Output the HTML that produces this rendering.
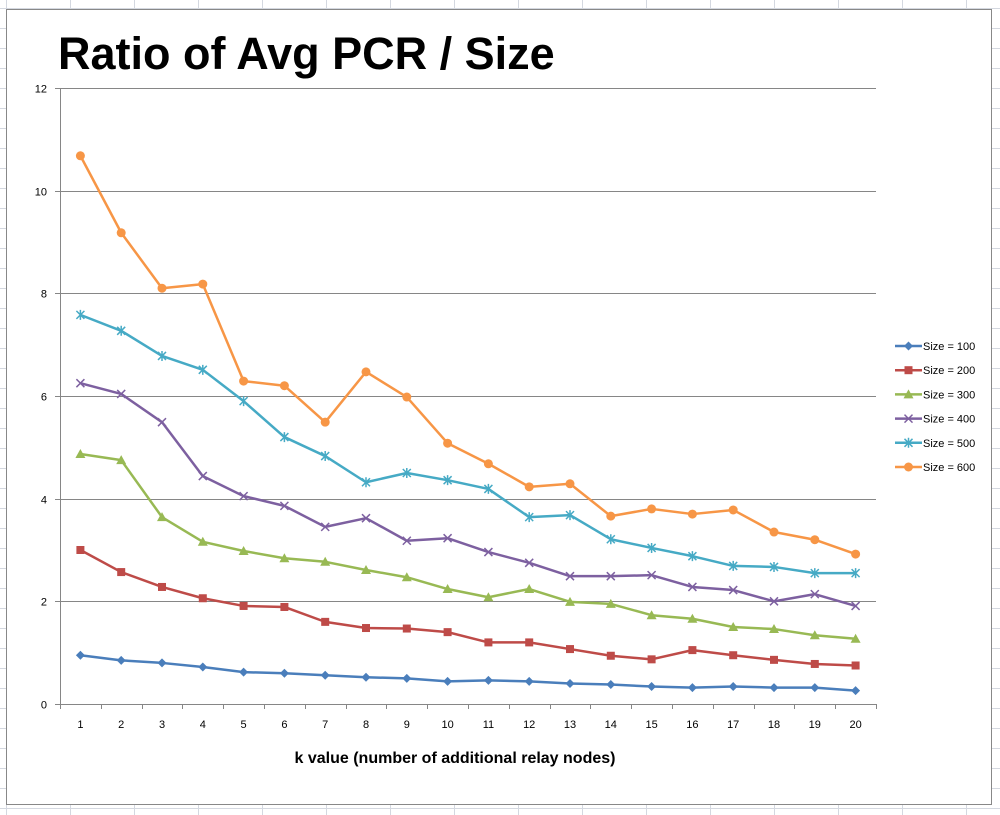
<!DOCTYPE html>
<html><head><meta charset="utf-8"><style>
body{margin:0;background:#fff;font-family:"Liberation Sans",sans-serif}
svg{display:block}
</style></head><body>
<svg id="c" width="1000" height="815" xmlns="http://www.w3.org/2000/svg">
<g id="bg"></g>
<rect x="6.5" y="9.5" width="985" height="795" fill="#fff" stroke="#888"/>
<text x="58" y="69" font-size="45" font-weight="bold" fill="#000">Ratio of Avg PCR / Size</text>
<g id="grid"></g>
<g id="series"></g>
<g id="legend"></g>
<text x="455" y="763" text-anchor="middle" font-size="16" font-weight="bold">k value (number of additional relay nodes)</text>
</svg>
<script>
const categories=[1,2,3,4,5,6,7,8,9,10,11,12,13,14,15,16,17,18,19,20];
const yTicks=[0,2,4,6,8,10,12];
const seriesNames=["Size = 100","Size = 200","Size = 300","Size = 400","Size = 500","Size = 600"];
const s100=[0.95,0.85,0.8,0.72,0.62,0.6,0.56,0.52,0.5,0.44,0.46,0.44,0.4,0.38,0.34,0.32,0.34,0.32,0.32,0.26];
const s200=[3.0,2.57,2.28,2.06,1.91,1.89,1.6,1.48,1.47,1.4,1.2,1.2,1.07,0.94,0.87,1.05,0.95,0.86,0.78,0.75];
const s300=[4.87,4.75,3.64,3.16,2.98,2.84,2.77,2.61,2.47,2.24,2.08,2.24,1.99,1.95,1.73,1.66,1.5,1.46,1.34,1.27];
const s400=[6.25,6.04,5.49,4.44,4.05,3.86,3.45,3.62,3.18,3.23,2.96,2.75,2.49,2.49,2.51,2.28,2.22,2.0,2.14,1.91];
const s500=[7.58,7.27,6.78,6.51,5.9,5.2,4.83,4.32,4.5,4.36,4.19,3.64,3.68,3.21,3.04,2.88,2.69,2.67,2.55,2.55];
const s600=[10.68,9.18,8.1,8.18,6.29,6.2,5.49,6.47,5.98,5.08,4.68,4.23,4.29,3.66,3.8,3.7,3.78,3.35,3.2,2.92];
const allSeries=[s100,s200,s300,s400,s500,s600];
const colors=["#4a7ebb","#be4b48","#98b954","#7d60a0","#46aac5","#f79646"];
const markers=["diamond","square","triangle","x","star","circle"];
const NS="http://www.w3.org/2000/svg";
const L=60,R=876,T=88,B=704,yMax=12;
const step=(R-L)/categories.length;
function xs(i){return L+step*(i+0.5);}
function ys(v){return B-(v/yMax)*(B-T);}
function mk(tag,attrs,parent){const e=document.createElementNS(NS,tag);for(const k in attrs)e.setAttribute(k,attrs[k]);parent.appendChild(e);return e;}
const bg=document.getElementById('bg');
for(let y=8;y<815;y+=20){mk('line',{x1:0,x2:1000,y1:y+.5,y2:y+.5,stroke:'#d4d8e0'},bg);}
for(let x=6;x<1000;x+=64){mk('line',{x1:x+.5,x2:x+.5,y1:0,y2:815,stroke:'#d4d8e0'},bg);}
const grid=document.getElementById('grid');
yTicks.forEach(t=>{const y=Math.round(ys(t))+.5;
 const g=mk('line',{x1:L-5,x2:R,y1:y,y2:y,stroke:'#868686'},grid);
 
 
 const tx=mk('text',{x:47,y:y+4,'text-anchor':'end','font-size':11},grid);tx.textContent=t;
 
 
});
mk('line',{x1:L+.5,x2:L+.5,y1:T,y2:B,stroke:'#868686'},grid);
for(let i=0;i<=categories.length;i++){const x=Math.round(L+step*i)+.5;mk('line',{x1:x,x2:x,y1:B,y2:B+5,stroke:'#868686'},grid);}
categories.forEach((c,i)=>{const t=mk('text',{x:xs(i),y:728,'text-anchor':'middle','font-size':11},grid);t.textContent=c;
 
 });
function marker(type,x,y,col,parent){
 if(type==='diamond')return mk('path',{d:`M${x},${y-4.5}L${x+4.5},${y}L${x},${y+4.5}L${x-4.5},${y}Z`,fill:col},parent);
 if(type==='square')return mk('rect',{x:x-4,y:y-4,width:8,height:8,fill:col},parent);
 if(type==='triangle')return mk('path',{d:`M${x},${y-5}L${x+5},${y+4}L${x-5},${y+4}Z`,fill:col},parent);
 if(type==='x')return mk('path',{d:`M${x-4},${y-4}L${x+4},${y+4}M${x-4},${y+4}L${x+4},${y-4}`,stroke:col,'stroke-width':1.5,fill:'none'},parent);
 if(type==='star')return mk('path',{d:`M${x-4},${y-4}L${x+4},${y+4}M${x-4},${y+4}L${x+4},${y-4}M${x},${y-5}L${x},${y+5}`,stroke:col,'stroke-width':1.5,fill:'none'},parent);
 return mk('circle',{cx:x,cy:y,r:4.5,fill:col},parent);
}
const sg=document.getElementById('series');
allSeries.forEach((s,k)=>{
 const g=mk('g',{},sg);
 
 
 mk('polyline',{points:s.map((v,i)=>xs(i)+','+ys(v)).join(' '),fill:'none',stroke:colors[k],'stroke-width':2.5,'stroke-linejoin':'round'},g);
 s.forEach((v,i)=>{const m=marker(markers[k],xs(i),ys(v),colors[k],g);
  
  });
});
const lg=document.getElementById('legend');
seriesNames.forEach((n,k)=>{const y=346+k*24.2;
 const g=mk('g',{},lg);
 
 
 mk('line',{x1:895,x2:922,y1:y,y2:y,stroke:colors[k],'stroke-width':2.5},g);
 marker(markers[k],908.5,y,colors[k],g);
 const t=mk('text',{x:923,y:y+4,'font-size':11},g);t.textContent=n;
});
</script>
</body></html>
